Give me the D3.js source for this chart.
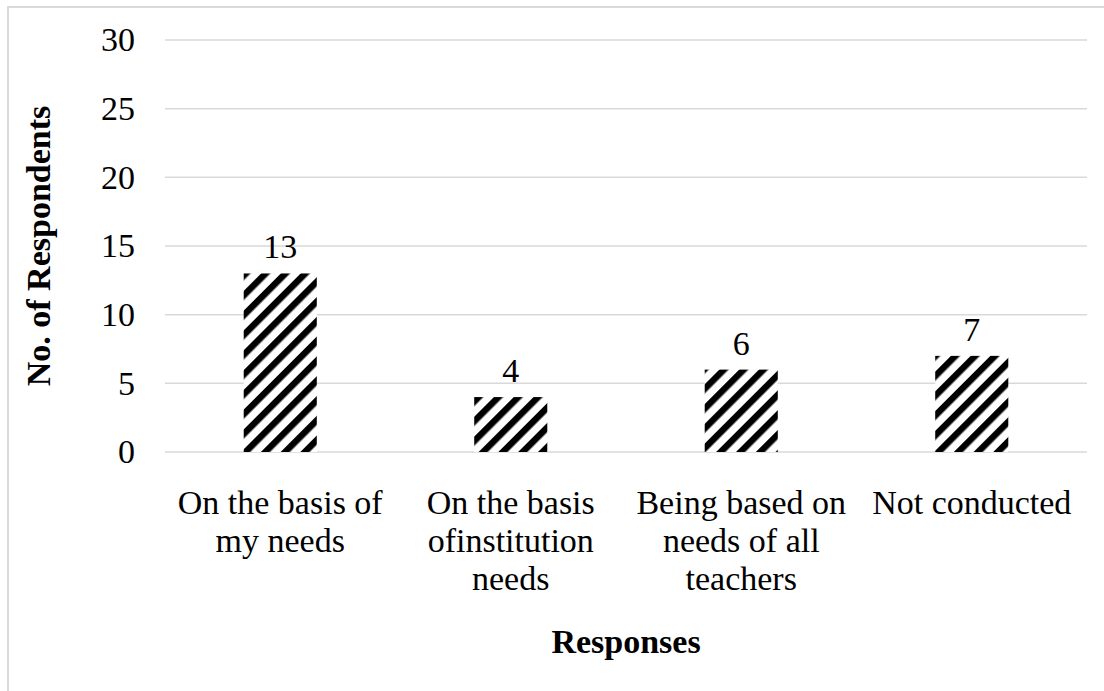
<!DOCTYPE html>
<html>
<head>
<meta charset="utf-8">
<script src="https://cdn.jsdelivr.net/npm/d3@7"></script>
<style>
  html, body { margin: 0; padding: 0; background: #fff; }
  svg { display: block; }
  text { font-family: "Liberation Serif", "Times New Roman", serif; fill: #000; }
</style>
</head>
<body>
<svg id="chart" width="1104" height="691"></svg>
<script>
// Survey responses: how training needs are identified
const categories = ["On the basis of my needs", "On the basis ofinstitution needs", "Being based on needs of all teachers", "Not conducted"];
const categoryLines = [
  ["On the basis of", "my needs"],
  ["On the basis", "ofinstitution", "needs"],
  ["Being based on", "needs of all", "teachers"],
  ["Not conducted"]
];
const values = [13, 4, 6, 7];
const yTicks = [0, 5, 10, 15, 20, 25, 30];
const yTitle = "No. of Respondents";
const xTitle = "Responses";

const svg = d3.select("#chart");
const W = 1104, H = 691;
const plot = { left: 165, right: 1087, top: 40, bottom: 452 };

// Outer chart frame (only top and left edges fall inside the canvas)
svg.append("rect")
  .attr("x", 8).attr("y", 7)
  .attr("width", W + 20).attr("height", H + 20)
  .attr("fill", "#fff")
  .attr("stroke", "#d9d9d9").attr("stroke-width", 2);

// Diagonal stripe fill
const defs = svg.append("defs");
const pat = defs.append("pattern")
  .attr("id", "stripes")
  .attr("patternUnits", "userSpaceOnUse")
  .attr("width", 14).attr("height", 14)
  .attr("patternTransform", "rotate(45)");
pat.append("rect").attr("width", 14).attr("height", 14).attr("fill", "#fff");
pat.append("rect").attr("x", 0).attr("width", 6.5).attr("height", 14).attr("fill", "#000");

const x = d3.scaleBand()
  .domain(categories)
  .range([plot.left, plot.right])
  .paddingInner(0.683)
  .paddingOuter(0.3415);

const y = d3.scaleLinear().domain([0, 30]).range([plot.bottom, plot.top]);

// Gridlines
svg.append("g")
  .selectAll("line")
  .data(yTicks)
  .join("line")
  .attr("x1", plot.left).attr("x2", plot.right)
  .attr("y1", d => y(d)).attr("y2", d => y(d))
  .attr("stroke", "#d9d9d9").attr("stroke-width", 1.5);

// Y axis labels
const yAxis = d3.axisLeft(y).tickValues(yTicks).tickSize(0).tickPadding(30);
const gy = svg.append("g").attr("transform", `translate(${plot.left},0)`).call(yAxis);
gy.select(".domain").remove();
gy.selectAll("text")
  .style("font-family", '"Liberation Serif", "Times New Roman", serif')
  .style("font-size", "34px")
  .attr("fill", "#000");

// Bars
svg.append("g")
  .selectAll("rect")
  .data(values)
  .join("rect")
  .attr("x", (d, i) => x(categories[i]))
  .attr("y", d => y(d))
  .attr("width", x.bandwidth())
  .attr("height", d => y(0) - y(d))
  .attr("fill", "url(#stripes)");

// Value labels
svg.append("g")
  .selectAll("text")
  .data(values)
  .join("text")
  .attr("x", (d, i) => x(categories[i]) + x.bandwidth() / 2)
  .attr("y", d => y(d) - 15)
  .attr("text-anchor", "middle")
  .style("font-size", "34px")
  .text(d => d);

// Category labels (wrapped)
const catG = svg.append("g");
categoryLines.forEach((lines, i) => {
  const cx = x(categories[i]) + x.bandwidth() / 2;
  const t = catG.append("text")
    .attr("text-anchor", "middle")
    .style("font-size", "34px");
  lines.forEach((ln, j) => {
    t.append("tspan").attr("x", cx).attr("y", 514 + j * 38).text(ln);
  });
});

// Axis titles
svg.append("text")
  .attr("transform", `translate(50,${(plot.top + plot.bottom) / 2}) rotate(-90)`)
  .attr("text-anchor", "middle")
  .style("font-size", "34px")
  .style("font-weight", "bold")
  .text(yTitle);

svg.append("text")
  .attr("x", (plot.left + plot.right) / 2)
  .attr("y", 653)
  .attr("text-anchor", "middle")
  .style("font-size", "34px")
  .style("font-weight", "bold")
  .text(xTitle);
</script>
</body>
</html>
